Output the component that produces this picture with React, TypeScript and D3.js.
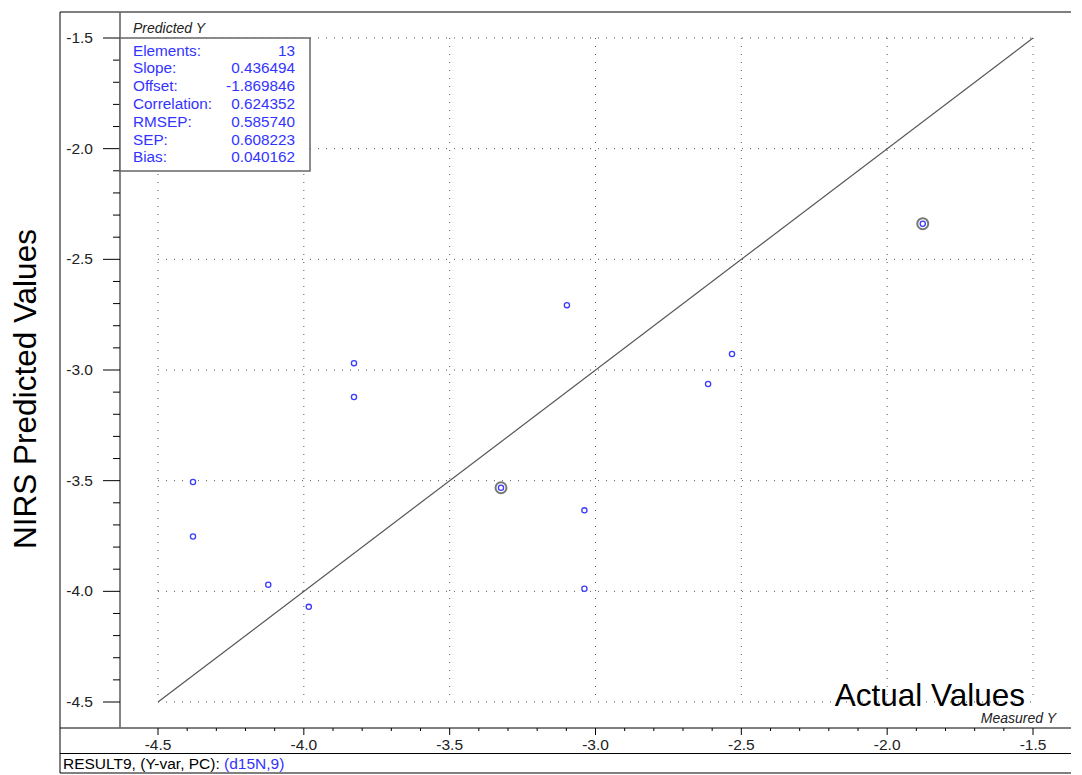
import { useEffect } from 'react';
import * as d3 from 'd3';

// measured (x) and predicted (y) values
const measured = [-4.38, -4.38, -4.122, -3.983, -3.828, -3.828, -3.324, -3.038, -3.038, -3.098, -2.614, -2.532, -1.878];
const predicted = [-3.506, -3.752, -3.97, -4.07, -2.969, -3.122, -3.532, -3.634, -3.988, -2.707, -3.063, -2.928, -2.339];
const highlighted = [6, 12];

const majorTicks = [-4.5, -4.0, -3.5, -3.0, -2.5, -2.0, -1.5];
const statLabels = ['Elements:', 'Slope:', 'Offset:', 'Correlation:', 'RMSEP:', 'SEP:', 'Bias:'];
const statValues = ['13', '0.436494', '-1.869846', '0.624352', '0.585740', '0.608223', '0.040162'];

const W = 1082;
const H = 775;
const font = 'Arial, "Liberation Sans", sans-serif';

export default function App() {
    useEffect(() => {
        document.body.style.margin = '0';
    }, []);

    const x = d3.scaleLinear().domain([-4.5, -1.5]).range([158, 1033]);
    const y = d3.scaleLinear().domain([-4.5, -1.5]).range([702, 38]);
    const minorTicks = d3.range(-45, -14, 1).map(v => v / 10).filter(v => !majorTicks.some(m => Math.abs(m - v) < 1e-6));
    const fmt = (v: number) => v.toFixed(1);

    const axisY = 728;
    const axisX = 120;

    return (
        <svg width={W} height={H} style={{ display: 'block', fontFamily: font }}>
            <rect width={W} height={H} fill="#fff" />

            {/* grid */}
            {majorTicks.map(t => (
                <g key={'g' + t}>
                    <line x1={x(t)} x2={x(t)} y1={y(-1.5)} y2={y(-4.5)} stroke="#555" strokeDasharray="1,7" />
                    <line x1={x(-4.5)} x2={x(-1.5)} y1={y(t)} y2={y(t)} stroke="#555" strokeDasharray="1,7" />
                </g>
            ))}

            {/* frame */}
            <line x1={60} x2={1071} y1={12} y2={12} stroke="#000" />
            <line x1={60} x2={60} y1={12} y2={773} stroke="#000" />
            <line x1={60} x2={1071} y1={axisY} y2={axisY} stroke="#000" />
            <line x1={60} x2={1071} y1={753.5} y2={753.5} stroke="#000" />
            <line x1={60} x2={1071} y1={773} y2={773} stroke="#000" />
            <line x1={axisX} x2={axisX} y1={12} y2={axisY} stroke="#666" strokeWidth={1.6} />

            {/* y ticks */}
            {majorTicks.map(t => (
                <g key={'y' + t}>
                    <line x1={103} x2={axisX} y1={y(t)} y2={y(t)} stroke="#000" />
                    <text x={93} y={y(t) + 5} textAnchor="end" fontSize={15.5} fill="#222">{fmt(t)}</text>
                </g>
            ))}
            {minorTicks.map(t => (
                <line key={'ym' + t} x1={113} x2={axisX} y1={y(t)} y2={y(t)} stroke="#000" />
            ))}

            {/* x ticks */}
            {majorTicks.map(t => (
                <g key={'x' + t}>
                    <line x1={x(t)} x2={x(t)} y1={axisY} y2={axisY + 7} stroke="#000" />
                    <text x={x(t)} y={750} textAnchor="middle" fontSize={15.5} fill="#222">{fmt(t)}</text>
                </g>
            ))}
            {minorTicks.map(t => (
                <line key={'xm' + t} x1={x(t)} x2={x(t)} y1={axisY} y2={axisY + 3} stroke="#000" />
            ))}

            {/* target line */}
            <line x1={x(-4.5)} y1={y(-4.5)} x2={x(-1.5)} y2={y(-1.5)} stroke="#555" strokeWidth={1.2} />

            {/* points */}
            {measured.map((m, i) => (
                <g key={'p' + i}>
                    {highlighted.includes(i) && (
                        <circle cx={x(m)} cy={y(predicted[i])} r={5.5} fill="none" stroke="#777" strokeWidth={2} />
                    )}
                    <circle cx={x(m)} cy={y(predicted[i])} r={2.6} fill="#fff" stroke="#3b3bff" strokeWidth={1.3} />
                </g>
            ))}

            {/* stats box */}
            <text x={133} y={33} fontSize={14} fontStyle="italic" fill="#222">Predicted Y</text>
            <rect x={axisX} y={38} width={190} height={133} fill="#fff" stroke="#666" strokeWidth={1.5} />
            {statLabels.map((l, i) => (
                <g key={'s' + i} fontSize={15.3} fill="#3333ff">
                    <text x={133} y={55.5 + i * 17.8}>{l}</text>
                    <text x={295} y={55.5 + i * 17.8} textAnchor="end">{statValues[i]}</text>
                </g>
            ))}

            {/* titles */}
            <text transform="translate(36,389) rotate(-90)" textAnchor="middle" fontSize={31.5} fill="#000">NIRS Predicted Values</text>
            <text x={1025} y={706} textAnchor="end" fontSize={31.5} fill="#000">Actual Values</text>
            <text x={1056} y={723} textAnchor="end" fontSize={14} fontStyle="italic" fill="#222">Measured Y</text>

            {/* status bar */}
            <text x={63} y={769} fontSize={15.5} fill="#000">
                RESULT9, (Y-var, PC): <tspan fill="#3333ff">(d15N,9)</tspan>
            </text>
        </svg>
    );
}
